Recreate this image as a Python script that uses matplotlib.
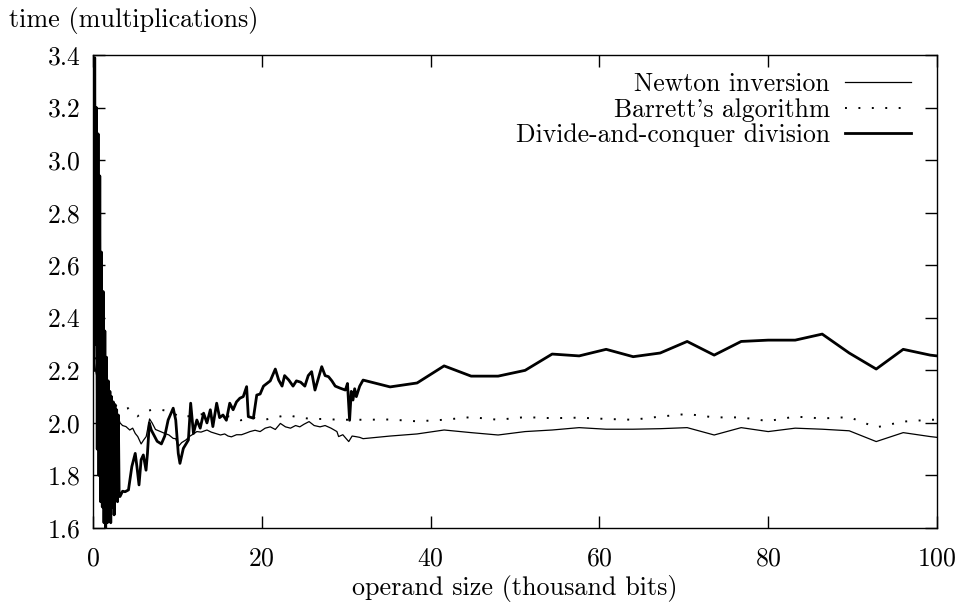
import matplotlib.pyplot as plt

plt.rcParams['font.family'] = ['cmr10', 'DejaVu Serif']
plt.rcParams['axes.formatter.use_mathtext'] = True

# Newton inversion (thin solid)
newton_x = [0.1, 0.3, 0.5, 0.8, 1.1, 1.4, 1.7, 2.0, 2.3, 2.6, 2.9, 3.2, 3.5,
            3.9, 4.35, 4.7, 5.0, 5.3, 5.7, 6.0, 6.3, 6.7, 7.0, 7.4, 8.0, 8.5,
            9.0, 9.5, 9.8, 10.1, 10.5, 11.0, 11.5, 12.0, 12.3, 12.8, 13.5,
            14.0, 14.5, 15.1, 15.6, 16.0, 16.4, 17.0, 17.6, 18.2, 18.6, 19.2,
            19.8, 20.4, 21.0, 21.6, 22.2, 22.8, 23.4, 24.0, 24.5, 25.0, 25.6,
            26.2, 26.9, 27.5, 28.2, 28.9, 29.1, 29.6, 30.0, 30.3, 30.7, 31.1,
            31.6, 32.0, 35.2, 38.4, 41.6, 44.8, 48.0, 51.2, 54.4, 57.6, 60.8,
            64.0, 67.2, 70.4, 73.6, 76.8, 80.0, 83.2, 86.4, 89.6, 92.8, 96.0,
            99.2, 100.0]
newton_y = [2.24, 2.20, 2.17, 2.12, 2.14, 2.11, 2.10, 2.07, 2.06, 2.04, 2.03,
            2.00, 1.99, 1.986, 1.973, 1.98, 1.96, 1.948, 1.92, 1.935, 1.948,
            2.015, 2.00, 1.975, 1.967, 1.96, 1.954, 1.941, 1.94, 1.91, 1.925,
            1.935, 1.95, 1.96, 1.967, 1.965, 1.973, 1.965, 1.96, 1.954, 1.958,
            1.95, 1.947, 1.955, 1.955, 1.962, 1.967, 1.972, 1.967, 1.98, 1.985,
            1.975, 1.998, 1.985, 1.98, 1.99, 1.985, 1.995, 2.005, 1.99, 1.985,
            1.99, 1.98, 1.967, 1.948, 1.955, 1.94, 1.929, 1.95, 1.948, 1.945,
            1.94, 1.95, 1.958, 1.973, 1.963, 1.954, 1.967, 1.973, 1.982, 1.976,
            1.976, 1.978, 1.982, 1.954, 1.982, 1.967, 1.98, 1.976, 1.97, 1.929,
            1.963, 1.948, 1.945]

# Barrett's algorithm (dotted)
barrett_x = [0.1, 0.4, 0.8, 1.2, 1.6, 2.0, 2.5, 3.0, 3.5, 4.15, 4.6, 5.25,
             6.1, 7.0, 8.0, 9.0, 10.5, 12.0, 13.5, 15.0, 16.2, 17.5, 19.0,
             20.2, 21.5, 23.0, 24.5, 26.0, 27.5, 29.0, 30.5, 32.0, 35.2, 38.4,
             41.6, 44.8, 48.0, 51.2, 54.4, 57.6, 60.8, 64.0, 67.2, 70.4, 73.6,
             76.8, 80.0, 83.2, 86.4, 89.6, 92.8, 96.0, 99.2, 100.0]
barrett_y = [2.30, 2.22, 2.15, 2.12, 2.10, 2.08, 2.07, 2.06, 2.05, 2.056,
             2.04, 2.025, 2.043, 2.05, 2.05, 2.045, 2.02, 2.03, 2.035, 2.03,
             2.024, 2.01, 2.02, 2.011, 2.02, 2.03, 2.02, 2.015, 2.015, 2.012,
             2.012, 2.012, 2.013, 2.006, 2.012, 2.022, 2.012, 2.022, 2.018,
             2.02, 2.015, 2.012, 2.024, 2.034, 2.021, 2.021, 2.007, 2.024,
             2.017, 2.022, 1.983, 2.005, 2.012, 2.012]

# Divide-and-conquer division (thick solid)
dc_x = [0.1, 0.2, 0.3, 0.4, 0.5, 0.6, 0.7, 0.8, 0.9, 1.0, 1.1, 1.2, 1.3, 1.4,
        1.5, 1.6, 1.7, 1.8, 1.9, 2.0, 2.1, 2.2, 2.3, 2.4, 2.5, 2.6, 2.7, 2.8,
        2.9, 3.0, 3.1, 3.2, 3.5, 3.8, 4.2, 4.6, 5.0, 5.2, 5.45, 5.7, 5.96,
        6.28, 6.45, 6.67, 6.9, 7.3, 7.6, 8.1, 8.5, 8.9, 9.5, 9.8, 10.1, 10.3,
        10.7, 11.3, 11.57, 11.9, 12.3, 12.7, 13.1, 13.5, 13.9, 14.2, 14.65,
        15.0, 15.4, 15.8, 16.2, 16.6, 17.0, 17.4, 17.8, 18.2, 18.4, 19.0,
        19.4, 19.8, 20.2, 20.6, 21.0, 21.6, 22.0, 22.4, 22.7, 23.2, 23.7,
        24.1, 24.6, 25.1, 25.5, 25.9, 26.3, 26.7, 27.1, 27.5, 27.9, 28.3,
        28.7, 29.3, 29.9, 30.15, 30.4, 30.6, 30.8, 31.0, 31.2, 31.6, 32.0,
        35.2, 38.4, 41.6, 44.8, 48.0, 51.2, 54.4, 57.6, 60.8, 64.0, 67.2,
        70.4, 73.6, 76.8, 80.0, 83.2, 86.4, 89.6, 92.8, 96.0, 99.2, 100.0]
dc_y = [2.20, 3.39, 2.30, 3.20, 1.90, 3.10, 1.80, 2.94, 1.70, 2.65, 1.68,
        2.50, 1.62, 2.35, 1.60, 2.25, 1.62, 2.16, 1.65, 2.12, 1.62, 2.10,
        1.68, 2.08, 1.65, 2.07, 1.72, 2.05, 1.70, 2.03, 1.72, 1.72, 1.74,
        1.738, 1.745, 1.834, 1.884, 1.834, 1.764, 1.86, 1.878, 1.82, 1.884,
        2.00, 1.973, 1.948, 1.93, 1.92, 1.95, 2.011, 2.056, 2.011, 1.884,
        1.846, 1.903, 1.935, 2.075, 1.96, 2.011, 1.98, 2.037, 2.00, 2.05,
        1.986, 2.075, 2.02, 2.03, 2.01, 2.075, 2.05, 2.08, 2.094, 2.10, 2.138,
        2.024, 2.018, 2.106, 2.11, 2.14, 2.15, 2.16, 2.205, 2.163, 2.14, 2.18,
        2.163, 2.14, 2.16, 2.155, 2.14, 2.18, 2.195, 2.125, 2.17, 2.214, 2.18,
        2.176, 2.16, 2.14, 2.132, 2.125, 2.15, 2.01, 2.12, 2.087, 2.13, 2.10,
        2.14, 2.163, 2.137, 2.152, 2.217, 2.178, 2.178, 2.20, 2.262, 2.255,
        2.28, 2.252, 2.266, 2.31, 2.258, 2.31, 2.315, 2.315, 2.338, 2.266,
        2.205, 2.28, 2.258, 2.255]

x_ticks = [0, 20, 40, 60, 80, 100]
y_ticks = [1.6, 1.8, 2.0, 2.2, 2.4, 2.6, 2.8, 3.0, 3.2, 3.4]

fig = plt.figure(figsize=(9.61, 6.10), dpi=100)
ax = fig.add_axes([0.0968, 0.1344, 0.8782, 0.7754])

ax.plot(newton_x, newton_y, color='black', lw=0.9, label='Newton inversion')
ax.plot(barrett_x, barrett_y, color='black', lw=1.4, linestyle=(0, (1, 5.9)),
        label="Barrett's algorithm")
ax.plot(dc_x, dc_y, color='black', lw=2.0, label='Divide-and-conquer division')

ax.set_xlim(0, 100)
ax.set_ylim(1.6, 3.4)
ax.set_xticks(x_ticks)
ax.set_yticks(y_ticks)
ax.set_yticklabels(['%.1f' % v for v in y_ticks])
ax.tick_params(direction='in', length=8.5, width=1.0, top=True, right=True,
               labelsize=18.5, color='black')
ax.tick_params(axis='x', pad=13.5)
ax.tick_params(axis='y', pad=9)
for s in ax.spines.values():
    s.set_linewidth(1.0)

fig.text(0.009, 0.967, 'time (multiplications)', fontsize=18.8, va='center', ha='left')
fig.text(0.536, 0.036, 'operand size (thousand bits)', fontsize=18.8, va='center', ha='center')

ax.legend(loc='upper right', bbox_to_anchor=(0.975, 0.975), frameon=False,
          markerfirst=False, fontsize=18.5, handlelength=2.55, handletextpad=0.6,
          labelspacing=0.08, borderpad=0.2, borderaxespad=0)

fig.savefig('out.png', dpi=100)
